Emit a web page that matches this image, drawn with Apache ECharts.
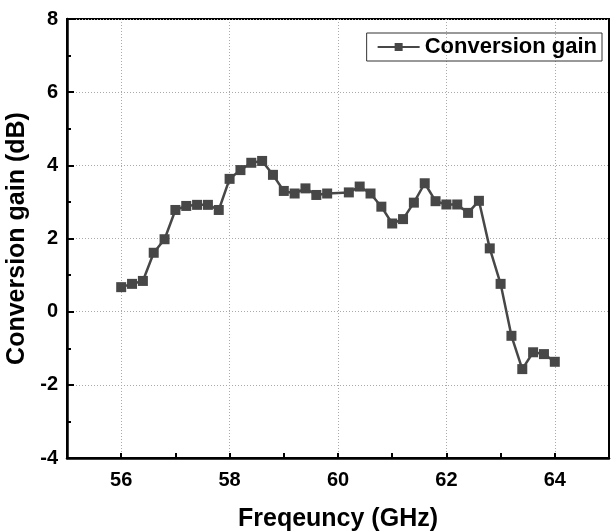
<!DOCTYPE html>
<html>
<head>
<meta charset="utf-8">
<script src="https://cdn.jsdelivr.net/npm/echarts@6/dist/echarts.min.js"></script>
<style>
  html, body { margin: 0; padding: 0; background: #fff; }
  #chart { width: 612px; height: 532px; }
</style>
</head>
<body>
<div id="chart"></div>
<script>
// 频率 (GHz) 与增益 (dB)
var freqs = [56, 56.2, 56.4, 56.6, 56.8, 57, 57.2, 57.4, 57.6, 57.8,
             58, 58.2, 58.4, 58.6, 58.8, 59, 59.2, 59.4, 59.6, 59.8,
             60.2, 60.4, 60.6, 60.8, 61, 61.2, 61.4, 61.6, 61.8, 62,
             62.2, 62.4, 62.6, 62.8, 63, 63.2, 63.4, 63.6, 63.8, 64];
var gains = [0.67, 0.76, 0.84, 1.61, 1.98, 2.78, 2.89, 2.92, 2.92, 2.78,
             3.63, 3.87, 4.07, 4.12, 3.74, 3.30, 3.23, 3.37, 3.19, 3.23,
             3.26, 3.42, 3.23, 2.87, 2.41, 2.53, 2.98, 3.51, 3.02, 2.93,
             2.93, 2.70, 3.03, 1.73, 0.76, -0.66, -1.57, -1.11, -1.16, -1.37];
var xTickLabels = [56, 58, 60, 62, 64];
var seriesName = 'Conversion gain';

var data = [];
for (var i = 0; i < freqs.length; i++) {
    data.push([freqs[i], gains[i]]);
}

var font = 'Liberation Sans';
var chart = echarts.init(document.getElementById('chart'));
var option = {
    backgroundColor: '#fff',
    animation: false,
    grid: {
        left: 67,
        right: 3,
        top: 19,
        bottom: 74,
        outerBoundsMode: 'none',
        show: true,
        borderColor: '#000',
        borderWidth: 2
    },
    legend: {
        data: [seriesName],
        right: 10,
        top: 33,
        padding: [3, 5, 3, 10],
        itemGap: 8,
        borderColor: '#333',
        borderWidth: 1,
        borderRadius: 0,
        itemWidth: 42,
        itemHeight: 10,
        textStyle: {
            fontFamily: font,
            fontWeight: 'bold',
            fontSize: 22,
            color: '#000'
        }
    },
    xAxis: {
        type: 'value',
        min: 55,
        max: 65,
        interval: 1,
        name: 'Freqeuncy (GHz)',
        nameLocation: 'middle',
        nameGap: 49,
        nameTextStyle: {
            fontFamily: font,
            fontWeight: 'bold',
            fontSize: 25,
            color: '#000'
        },
        axisLine: { onZero: false, lineStyle: { color: '#000', width: 2.5 } },
        axisTick: { inside: true, length: 5, lineStyle: { color: '#000', width: 2 } },
        axisLabel: {
            margin: 12,
            fontFamily: font,
            fontWeight: 'bold',
            fontSize: 20,
            color: '#000',
            formatter: function (v) {
                return xTickLabels.indexOf(v) >= 0 ? String(v) : '';
            }
        },
        splitLine: {
            show: true,
            lineStyle: { type: [1, 2], color: ['rgba(0,0,0,0)', '#aaa'], width: 1 }
        }
    },
    yAxis: {
        type: 'value',
        min: -4,
        max: 8,
        interval: 2,
        name: 'Conversion gain (dB)',
        nameLocation: 'middle',
        nameGap: 31,
        nameTextStyle: {
            fontFamily: font,
            fontWeight: 'bold',
            fontSize: 25,
            color: '#000'
        },
        axisLine: { onZero: false, lineStyle: { color: '#000', width: 2.5 } },
        axisTick: { inside: true, length: 7, lineStyle: { color: '#000', width: 2 } },
        minorTick: { show: true, splitNumber: 2, length: 4, lineStyle: { color: '#000', width: 2 } },
        axisLabel: {
            margin: 9,
            fontFamily: font,
            fontWeight: 'bold',
            fontSize: 20,
            color: '#000'
        },
        splitLine: {
            show: true,
            lineStyle: { type: [1, 2], color: '#aaa', width: 1 }
        }
    },
    series: [{
        name: seriesName,
        type: 'line',
        data: data,
        symbol: 'rect',
        symbolSize: 10,
        lineStyle: { color: '#474747', width: 2.5 },
        itemStyle: { color: '#474747' }
    }]
};
chart.setOption(option);
</script>
</body>
</html>
